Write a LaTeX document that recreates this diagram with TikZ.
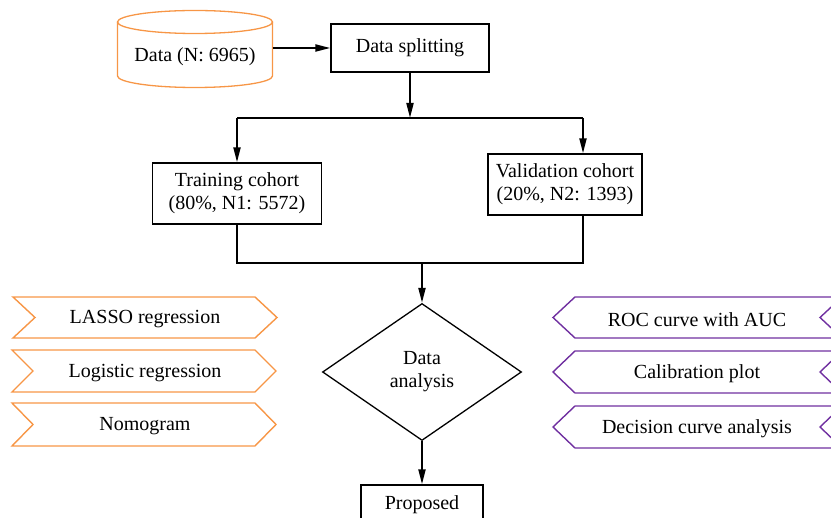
\documentclass[tikz,border=0pt]{standalone}
\usepackage{fontspec}
\setmainfont{Liberation Serif}
\usetikzlibrary{arrows.meta,shapes.geometric,calc}
\definecolor{orng}{RGB}{247,150,70}
\definecolor{purp}{RGB}{112,48,160}
\begin{document}
\begin{tikzpicture}[x=1pt,y=-1pt,
  txt/.style={font=\fontsize{20}{23}\selectfont, align=center, inner sep=0pt},
  lab/.style={txt, yshift=-2pt},
  box/.style={txt, draw, line width=1.3pt},
  conn/.style={line width=2pt, -{Triangle[length=15pt,width=7pt]}},
  plain/.style={line width=2pt},
  lchev/.style={draw=orng, line width=1.4pt, line join=miter},
  rchev/.style={draw=purp, line width=1.4pt, line join=miter},
]
\path[use as bounding box] (0,0) rectangle (831,518);
\clip (0,0) rectangle (831,518);

% cylinder
\draw[orng, line width=1.3pt] (195,22) ellipse [x radius=77.5, y radius=11.5];
\draw[orng, line width=1.3pt] (117.5,22) -- (117.5,76) arc[start angle=180, end angle=0, x radius=77.5, y radius=11.5] -- (272.5,22);
\node[txt, minimum width=155pt, minimum height=78pt] (data) at (195,48) {};
\node[lab] (datatext) at (195,55) {Data (N: 6965)};

\node[box, minimum width=158pt, minimum height=48pt] (split) at (410,48) {Data splitting};
\node[box, minimum width=169pt, minimum height=61pt] (train) at (237,193.5) {Training cohort\\(80\%, N1: 5572)};
\node[box, minimum width=154pt, minimum height=61pt] (val) at (565,184.5) {Validation cohort\\(20\%, N2: 1393)};
\node[txt, draw, diamond, line width=1.3pt, minimum width=199pt, minimum height=137pt] (dia) at (422,372) {Data\\analysis};
\node[box, minimum width=122pt, minimum height=40pt] (prop) at (422,505) {Proposed};

% connectors
\coordinate (j1) at (410,118);
\coordinate (jl) at (237,118);
\coordinate (jr) at (583,118);
\coordinate (bl) at (237,263);
\coordinate (br) at (583,263);
\coordinate (bc) at (422,263);
\draw[conn] (data.east) -- (data.east -| split.west);
\draw[conn] (split.south) -- (j1);
\draw[plain] (jl) -- (jr);
\draw[conn] (jl) -- (train.north);
\draw[conn] (jr) -- (jr |- val.north);
\draw[plain] (train.south) -- (bl) -- (br) -- (br |- val.south);
\draw[conn] (bc) -- (dia.north);
\draw[conn] (dia.south) -- (prop.north);

% left chevrons
\draw[lchev] (13,297) -- (255,297) -- (277,317.5) -- (255,338) -- (13,338) -- (35,317.5) -- cycle;
\node[lab] (lasso) at (145,317.5) {LASSO regression};
\draw[lchev] (12,350) -- (255,350) -- (276,371) -- (255,392) -- (12,392) -- (33,371) -- cycle;
\node[lab] (logit) at (145,371) {Logistic regression};
\draw[lchev] (12,403) -- (255,403) -- (276,424.5) -- (255,446) -- (12,446) -- (33,424.5) -- cycle;
\node[lab] (nomo) at (145,424.5) {Nomogram};

% right chevrons
\draw[rchev] (575,297) -- (842,297) -- (820,317.5) -- (842,338) -- (575,338) -- (553,317.5) -- cycle;
\node[lab] (roc) at (697,317.5) {ROC curve with AUC};
\draw[rchev] (575,351) -- (842,351) -- (820,372) -- (842,393) -- (575,393) -- (553,372) -- cycle;
\node[lab] (calib) at (697,372) {Calibration plot};
\draw[rchev] (575,406) -- (842,406) -- (820,427) -- (842,448) -- (575,448) -- (553,427) -- cycle;
\node[lab] (dca) at (697,427) {Decision curve analysis};
\end{tikzpicture}
\end{document}
